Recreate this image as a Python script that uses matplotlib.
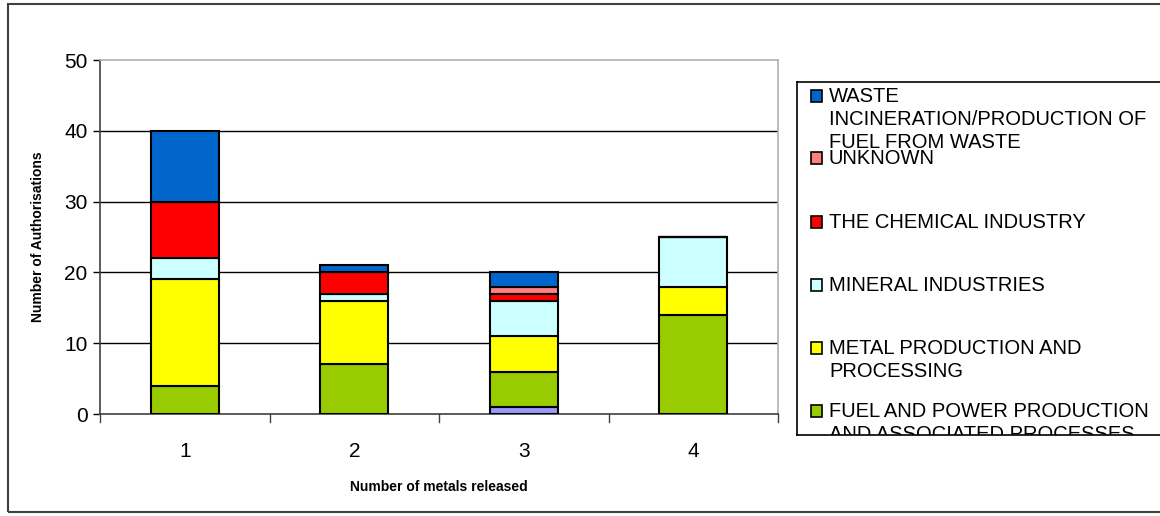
import matplotlib.pyplot as plt
from matplotlib.patches import Rectangle
import numpy as np

plt.rcParams['font.family'] = ['Liberation Sans', 'DejaVu Sans']

# Number of metals released per authorisation
categories = ['1', '2', '3', '4']

# Stacked series, bottom to top
other = [0, 0, 1, 0]
fuel_power = [4, 7, 5, 14]
metal_prod = [15, 9, 5, 4]
mineral = [3, 1, 5, 7]
chemical = [8, 3, 1, 0]
unknown = [0, 0, 1, 0]
waste = [10, 1, 2, 0]

series = [
    (other, '#9999FF', None),
    (fuel_power, '#99CC00', 'FUEL AND POWER PRODUCTION\nAND ASSOCIATED PROCESSES'),
    (metal_prod, '#FFFF00', 'METAL PRODUCTION AND\nPROCESSING'),
    (mineral, '#CCFFFF', 'MINERAL INDUSTRIES'),
    (chemical, '#FF0000', 'THE CHEMICAL INDUSTRY'),
    (unknown, '#FF8080', 'UNKNOWN'),
    (waste, '#0066CC', 'WASTE\nINCINERATION/PRODUCTION OF\nFUEL FROM WASTE'),
]

W, H = 1160, 516
fig = plt.figure(figsize=(W / 100, H / 100), dpi=100)

# outer chart frame
fig.patches.append(Rectangle((8 / W, 4 / H), 1.2, 508 / H, transform=fig.transFigure,
                             fill=False, edgecolor='#404040', linewidth=1.5))

ax = fig.add_axes([100 / W, 102 / H, 678 / W, 354 / H])
x = np.arange(1, len(categories) + 1)
bottom = np.zeros(len(categories))
for vals, color, label in series:
    vals = np.array(vals, dtype=float)
    ax.bar(x, vals, width=0.4, bottom=bottom, color=color, edgecolor='black',
           linewidth=1.5, zorder=3)
    bottom += vals

ax.set_xlim(0.5, 4.5)
ax.set_ylim(0, 50)
ax.set_yticks(range(0, 51, 10))
ax.tick_params(axis='y', labelsize=15, length=5, width=1, direction='out', pad=4)
ax.set_xticks(x)
ax.set_xticklabels(categories, fontsize=15)
ax.tick_params(axis='x', length=0, pad=20)
# category separator ticks on the x axis
for b in np.arange(0.5, 4.6, 1.0):
    ax.plot([b, b], [0, -1.2], color='#404040', lw=1, clip_on=False, zorder=4)

for yv in range(10, 50, 10):
    ax.axhline(yv, color='black', lw=1, zorder=1)
ax.spines['left'].set_color('#404040')
ax.spines['bottom'].set_color('#404040')
ax.spines['top'].set_color('#b0b0b0')
ax.spines['right'].set_color('#b0b0b0')
for s in ax.spines.values():
    s.set_linewidth(1.2)

ax.set_ylabel('Number of Authorisations', fontsize=10, fontweight='bold', labelpad=14)
ax.set_xlabel('Number of metals released', fontsize=10, fontweight='bold', labelpad=14)

# legend box, clipped at its lower edge
lg = fig.add_axes([797 / W, (H - 435) / H, (W - 797) / W, 353 / H])
lg.set_xlim(797, 797 + (W - 797))
lg.set_ylim(435, 82)
lg.set_xticks([])
lg.set_yticks([])
for name, s in lg.spines.items():
    s.set_color('black')
    s.set_linewidth(1.2)
lg.spines['right'].set_visible(False)

entry_y = [96, 158, 222, 285, 348, 411]
entries = [s for s in series if s[2] is not None][::-1]
for (vals, color, label), yy in zip(entries, entry_y):
    lg.add_patch(Rectangle((811, yy - 6), 11, 12, facecolor=color, edgecolor='black',
                           lw=1.2, clip_on=True))
    lg.text(829, yy - 9, label, fontsize=14.5, va='top', ha='left',
            linespacing=1.25, clip_on=True)

fig.savefig('out.png', dpi=100)
